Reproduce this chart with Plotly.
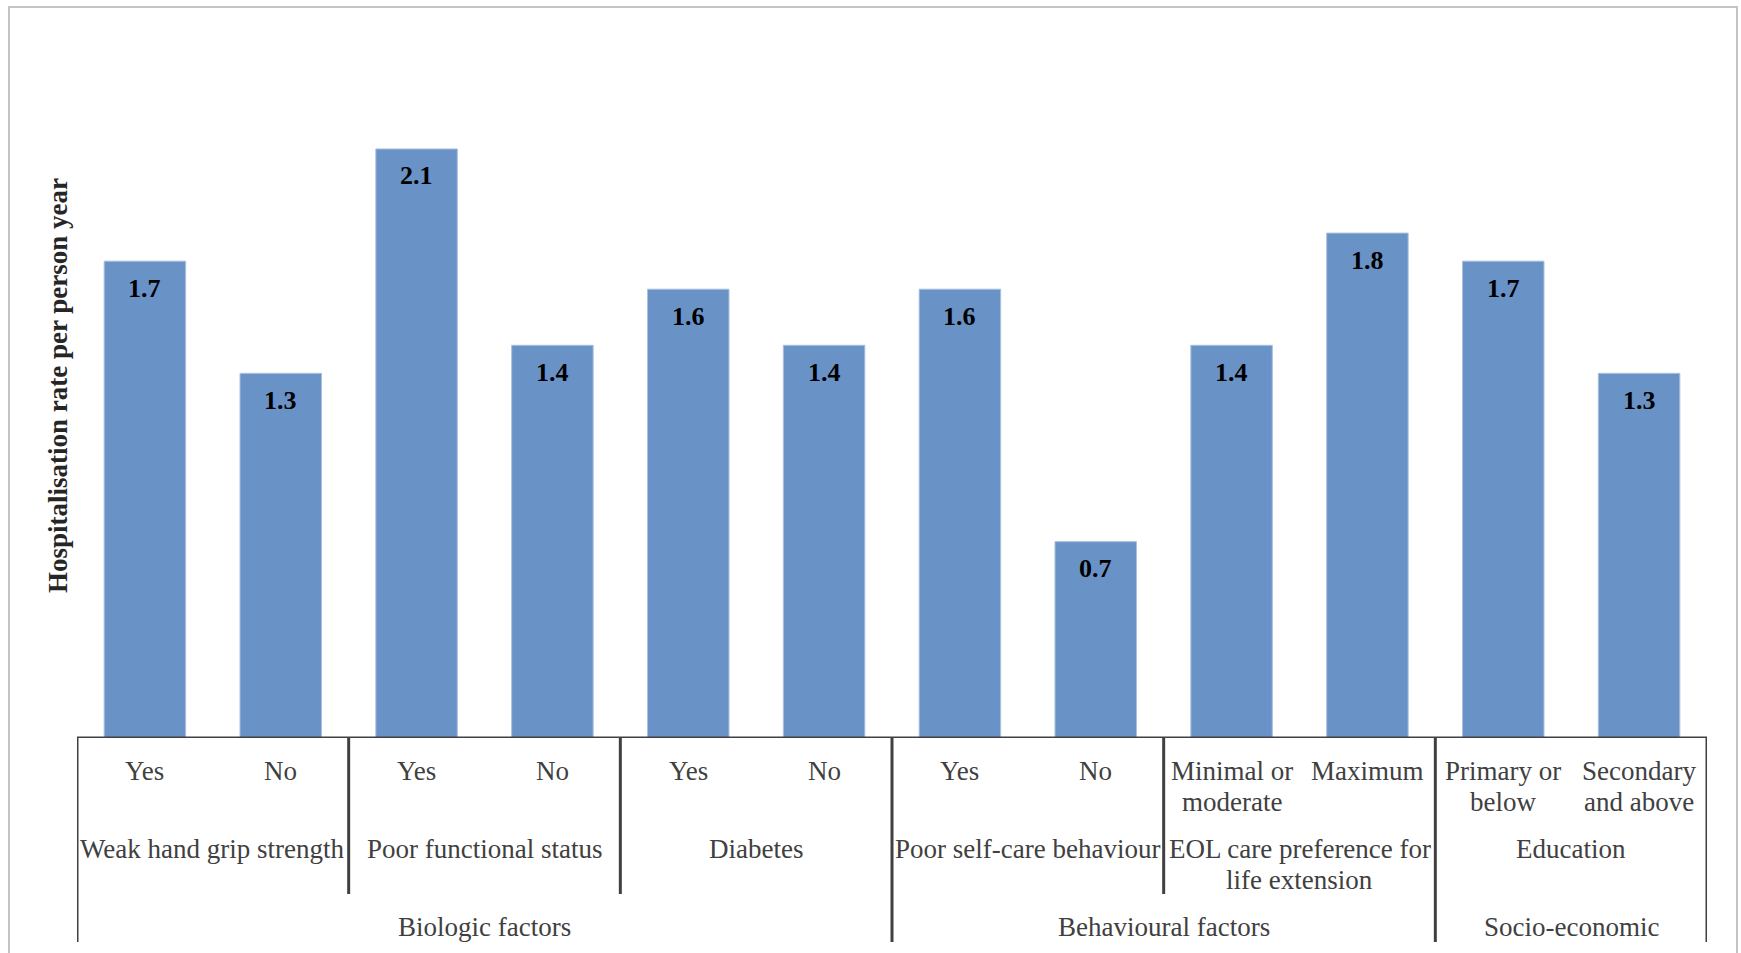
import plotly.graph_objects as go

# Hospitalisation rate per person-year by factor level
levels = ["Yes", "No", "Yes", "No", "Yes", "No", "Yes", "No",
          "Minimal or<br>moderate", "Maximum", "Primary or<br>below", "Secondary<br>and above"]
rates = [1.7, 1.3, 2.1, 1.4, 1.6, 1.4, 1.6, 0.7, 1.4, 1.8, 1.7, 1.3]

factors = ["Weak hand grip strength", "Poor functional status", "Diabetes",
           "Poor self-care behaviour", "EOL care preference for<br>life extension", "Education"]
factor_sizes = [2, 2, 2, 2, 2, 2]

domains = ["Biologic factors", "Behavioural factors", "Socio-economic"]
domain_sizes = [6, 4, 2]

BAR = "#6993C7"
LINE = "#404040"
TEXT = "#404040"
SERIF = "Liberation Serif, Times New Roman, serif"
CAT_SIZE = 27
LINE_STEP = 31  # pixel distance between wrapped label lines

W, H = 1741, 953
L, R, T, B = 77, 34, 34, 215
PLOT_H = H - T - B


def py(pix):
    """Pixel row -> paper y."""
    return (H - B - pix) / PLOT_H


def px(pix):
    return (pix - L) / (W - L - R)


def add_label(ann, xpos, row_pix, text):
    # each wrapped line becomes its own annotation for tighter line spacing
    for i, part in enumerate(text.split("<br>")):
        ann.append(dict(x=xpos, y=py(row_pix + i * LINE_STEP), xref="x", yref="paper",
                        text=part, showarrow=False, yanchor="middle",
                        font=dict(family=SERIF, size=CAT_SIZE, color=TEXT)))


x = list(range(len(rates)))

fig = go.Figure(go.Bar(
    x=x, y=rates,
    marker=dict(color=BAR, line=dict(color="#A9C0E0", width=1)),
    width=0.6,
    hoverinfo="skip",
))

shapes = []
annotations = []

# value labels inside the top of each bar
for xi, v in zip(x, rates):
    annotations.append(dict(x=xi, y=v, xref="x", yref="y", text=f"<b>{v:.1f}</b>",
                            showarrow=False, yanchor="middle", yshift=-27,
                            font=dict(family=SERIF, size=26, color="#000000")))

# category axis baseline
shapes.append(dict(type="line", xref="x", yref="y", x0=-0.5, x1=len(rates) - 0.5,
                   y0=0, y1=0, line=dict(color=LINE, width=3)))

# level labels (first row)
for xi, lab in zip(x, levels):
    add_label(annotations, xi, 771, lab)

# factor labels (second row)
start = 0
factor_edges = []
for name, n in zip(factors, factor_sizes):
    add_label(annotations, start + (n - 1) / 2, 849, name)
    factor_edges.append(start - 0.5)
    start += n
factor_edges.append(start - 0.5)

# domain labels (third row)
start = 0
domain_edges = []
for name, n in zip(domains, domain_sizes):
    add_label(annotations, start + (n - 1) / 2, 927, name)
    domain_edges.append(start - 0.5)
    start += n
domain_edges.append(start - 0.5)

# group separators: long ones between domains, shorter ones between factors
for e in factor_edges:
    bottom = 942 if e in domain_edges else 894
    shapes.append(dict(type="line", xref="x", yref="paper", x0=e, x1=e,
                       y0=py(738), y1=py(bottom), line=dict(color=LINE, width=3)))

# chart-area border
shapes.append(dict(type="rect", xref="paper", yref="paper",
                   x0=px(9), x1=px(1737), y0=py(7), y1=py(970),
                   line=dict(color="#C4C4C4", width=2), fillcolor="rgba(0,0,0,0)"))

# rotated value-axis title
annotations.append(dict(x=px(58), y=py(386), xref="paper", yref="paper",
                        text="<b>Hospitalisation rate per person year</b>",
                        textangle=-90, showarrow=False,
                        xanchor="center", yanchor="middle",
                        font=dict(family=SERIF, size=27, color="#262626")))

fig.update_layout(
    width=W, height=H,
    margin=dict(l=L, r=R, t=T, b=B, pad=0),
    paper_bgcolor="white", plot_bgcolor="white",
    showlegend=False,
    xaxis=dict(range=[-0.5, len(rates) - 0.5], showticklabels=False, showgrid=False,
               zeroline=False, showline=False, ticks=""),
    yaxis=dict(range=[0, (H - B - T) / 280.5], showticklabels=False, showgrid=False,
               zeroline=False, showline=False, ticks=""),
    shapes=shapes,
    annotations=annotations,
)

fig.write_html("out.html")
